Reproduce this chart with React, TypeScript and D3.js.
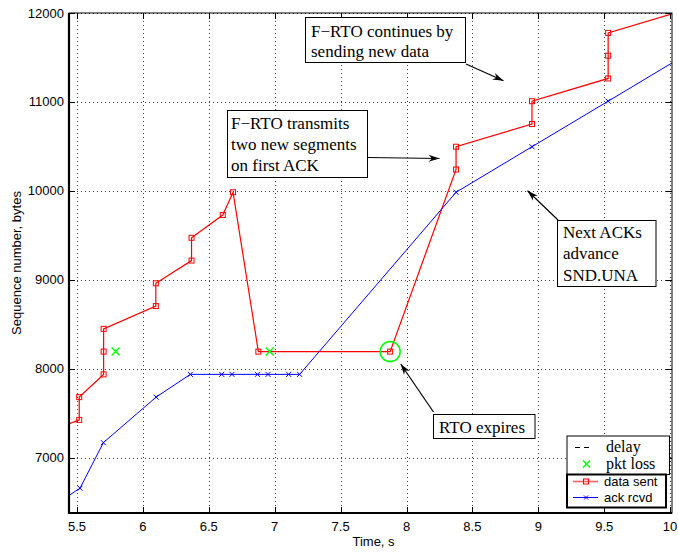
import { useEffect, useRef } from "react";
import * as d3 from "d3";

// data sent (red, square markers)
const sentTime = [5.08, 5.517, 5.517, 5.702, 5.702, 5.702, 6.098, 6.098, 6.369, 6.369, 6.606, 6.684, 6.876, 7.876, 8.376, 8.376, 8.952, 8.952, 9.53, 9.53, 9.53, 10.106];
const sentSeq = [7168, 7424, 7680, 7936, 8192, 8448, 8704, 8960, 9216, 9472, 9728, 9984, 8192, 8192, 10240, 10496, 10752, 11008, 11264, 11520, 11776, 12032];

// ack rcvd (blue, x markers)
const ackTime = [5.26, 5.523, 5.7, 6.1, 6.36, 6.598, 6.676, 6.869, 6.949, 7.106, 7.189, 8.376, 8.952, 9.53, 10.106];
const ackSeq = [6400, 6656, 7168, 7680, 7936, 7936, 7936, 7936, 7936, 7936, 7936, 9984, 10496, 11008, 11520];

// packet losses (green x)
const lossTime = [5.793, 6.962];
const lossSeq = [8192, 8192];

const xTicks = [5.5, 6, 6.5, 7, 7.5, 8, 8.5, 9, 9.5, 10];
const yTicks = [7000, 8000, 9000, 10000, 11000, 12000];

const serif = "'Liberation Serif', 'Times New Roman', serif";
const sans = "'Liberation Sans', Arial, Helvetica, sans-serif";

export default function App() {
  const svgRef = useRef<SVGSVGElement>(null);

  useEffect(() => {
    const svg = d3.select(svgRef.current);
    svg.selectAll("*").remove();

    const width = 678;
    const height = 553;
    const left = 69, right = 672, top = 13, bottom = 513;

    const x = d3.scaleLinear().domain([5.5, 10]).range([77, 670.1]);
    const y = d3.scaleLinear().domain([7000, 12000]).range([457.6, 13]);

    svg.attr("width", width).attr("height", height);
    svg.append("rect").attr("width", width).attr("height", height).attr("fill", "#fff");

    svg.append("defs").append("clipPath").attr("id", "plotclip")
      .append("rect").attr("x", left).attr("y", top)
      .attr("width", right - left).attr("height", bottom - top);

    // dotted grid
    const grid = svg.append("g").attr("stroke", "#000").attr("stroke-width", 1)
      .attr("stroke-dasharray", "1,3").attr("opacity", 0.75);
    xTicks.forEach((t) => {
      grid.append("line").attr("x1", Math.round(x(t)) + 0.5).attr("x2", Math.round(x(t)) + 0.5)
        .attr("y1", top).attr("y2", bottom);
    });
    yTicks.forEach((t) => {
      grid.append("line").attr("y1", Math.round(y(t)) + 0.5).attr("y2", Math.round(y(t)) + 0.5)
        .attr("x1", left).attr("x2", right);
    });

    const plot = svg.append("g").attr("clip-path", "url(#plotclip)");

    // data sent
    const sentPts: [number, number][] = sentTime.map((t, i) => [x(t), y(sentSeq[i])]);
    plot.append("path").attr("d", d3.line()(sentPts)!)
      .attr("fill", "none").attr("stroke", "#ff0000").attr("stroke-width", 1.2);
    plot.selectAll(".sq").data(sentPts).join("rect")
      .attr("x", (d) => d[0] - 2.5).attr("y", (d) => d[1] - 2.5)
      .attr("width", 5).attr("height", 5)
      .attr("fill", "none").attr("stroke", "#ff0000").attr("stroke-width", 1);

    // ack rcvd
    const ackPts: [number, number][] = ackTime.map((t, i) => [x(t), y(ackSeq[i])]);
    plot.append("path").attr("d", d3.line()(ackPts)!)
      .attr("fill", "none").attr("stroke", "#0000ff").attr("stroke-width", 1);
    ackPts.forEach(([px, py]) => {
      plot.append("path")
        .attr("d", `M${px - 2.5},${py - 2.5}L${px + 2.5},${py + 2.5}M${px - 2.5},${py + 2.5}L${px + 2.5},${py - 2.5}`)
        .attr("stroke", "#0000ff").attr("stroke-width", 1);
    });

    // packet loss
    lossTime.forEach((t, i) => {
      const px = x(t), py = y(lossSeq[i]);
      plot.append("path")
        .attr("d", `M${px - 4},${py - 4}L${px + 4},${py + 4}M${px - 4},${py + 4}L${px + 4},${py - 4}`)
        .attr("stroke", "#00ff00").attr("stroke-width", 1.4);
    });

    // RTO circle
    plot.append("circle").attr("cx", x(7.876)).attr("cy", y(8192)).attr("r", 10)
      .attr("fill", "none").attr("stroke", "#00ff00").attr("stroke-width", 1.5);

    // axes box
    svg.append("rect").attr("x", left).attr("y", top).attr("width", right - left).attr("height", bottom - top)
      .attr("fill", "none").attr("stroke", "#000").attr("stroke-width", 1);
    svg.append("line").attr("x1", left).attr("x2", left).attr("y1", top).attr("y2", bottom + 1)
      .attr("stroke", "#000").attr("stroke-width", 2.2);
    svg.append("line").attr("x1", left).attr("x2", right).attr("y1", bottom).attr("y2", bottom)
      .attr("stroke", "#000").attr("stroke-width", 2.2);

    const ticks = svg.append("g").attr("stroke", "#000").attr("stroke-width", 1);
    xTicks.forEach((t) => {
      const px = Math.round(x(t)) + 0.5;
      ticks.append("line").attr("x1", px).attr("x2", px).attr("y1", bottom).attr("y2", bottom - 6);
      ticks.append("line").attr("x1", px).attr("x2", px).attr("y1", top).attr("y2", top + 6);
    });
    yTicks.forEach((t) => {
      const py = Math.round(y(t)) + 0.5;
      ticks.append("line").attr("x1", left).attr("x2", left + 6).attr("y1", py).attr("y2", py);
      ticks.append("line").attr("x1", right).attr("x2", right - 6).attr("y1", py).attr("y2", py);
    });

    svg.append("g").selectAll("text").data(xTicks).join("text")
      .attr("x", (d) => x(d)).attr("y", 531)
      .attr("text-anchor", "middle").style("font-family", sans).attr("font-size", 13)
      .text((d) => String(d));
    svg.append("g").selectAll("text").data(yTicks).join("text")
      .attr("x", 64).attr("y", (d) => y(d) + 4.5)
      .attr("text-anchor", "end").style("font-family", sans).attr("font-size", 13)
      .text((d) => String(d));

    svg.append("text").attr("x", x(7.75)).attr("y", 546).attr("text-anchor", "middle")
      .style("font-family", sans).attr("font-size", 13).text("Time, s");
    svg.append("text").attr("transform", `translate(21,${(top + bottom) / 2}) rotate(-90)`)
      .attr("text-anchor", "middle").style("font-family", sans).attr("font-size", 13)
      .text("Sequence number, bytes");

    // annotations
    const arrow = (x1: number, y1: number, x2: number, y2: number) => {
      svg.append("line").attr("x1", x1).attr("y1", y1).attr("x2", x2).attr("y2", y2)
        .attr("stroke", "#000").attr("stroke-width", 1.2);
      const a = Math.atan2(y2 - y1, x2 - x1);
      const g = svg.append("g").attr("transform", `translate(${x2},${y2}) rotate(${(a * 180) / Math.PI})`);
      g.append("path").attr("d", "M0,0L-11,-3.5L-7.5,0L-11,3.5Z").attr("fill", "#000");
    };
    const note = (bx: number, by: number, bw: number, bh: number, lines: string[], baseline: number[], tx: number) => {
      svg.append("rect").attr("x", bx).attr("y", by).attr("width", bw).attr("height", bh)
        .attr("fill", "#fff").attr("stroke", "#000").attr("stroke-width", 1);
      lines.forEach((l, i) => {
        svg.append("text").attr("x", tx).attr("y", baseline[i])
          .style("font-family", serif).attr("font-size", 17).text(l);
      });
    };

    note(305.5, 17.5, 160, 45, ["F\u2212RTO continues by", "sending new data"], [36.5, 56.5], 311);
    arrow(466, 64, 503.5, 80.7);
    note(227.5, 110.5, 140, 67, ["F\u2212RTO transmits", "two new segments", "on first ACK"], [129, 150, 171], 231);
    arrow(367.5, 157.5, 439.5, 158.5);
    note(557.5, 220.5, 98.5, 66, ["Next ACKs", "advance", "SND.UNA"], [238, 259, 280.5], 563);
    arrow(558, 220, 527.5, 190.7);
    note(433.5, 414.5, 101.5, 24, ["RTO expires"], [432.5], 439);
    arrow(433.5, 412, 400.7, 364);

    // legend
    const lg = svg.append("g");
    lg.append("rect").attr("x", 567).attr("y", 436).attr("width", 102.5).attr("height", 38.5)
      .attr("fill", "#fff").attr("stroke", "#000").attr("stroke-width", 1);
    lg.append("line").attr("x1", 575).attr("x2", 591).attr("y1", 447.5).attr("y2", 447.5)
      .attr("stroke", "#000").attr("stroke-width", 1).attr("stroke-dasharray", "5,4");
    lg.append("text").attr("x", 606).attr("y", 452).style("font-family", serif).attr("font-size", 16).text("delay");
    lg.append("path").attr("d", "M583,460.5L590,467.5M583,467.5L590,460.5")
      .attr("stroke", "#00ff00").attr("stroke-width", 1.4);
    lg.append("text").attr("x", 606).attr("y", 469).style("font-family", serif).attr("font-size", 16).text("pkt loss");

    lg.append("rect").attr("x", 567).attr("y", 474.5).attr("width", 99).attr("height", 33)
      .attr("fill", "#fff").attr("stroke", "#000").attr("stroke-width", 2);
    lg.append("line").attr("x1", 573).attr("x2", 598).attr("y1", 481.5).attr("y2", 481.5)
      .attr("stroke", "#ff0000").attr("stroke-width", 1.6).attr("opacity", 0.6);
    lg.append("rect").attr("x", 583.5).attr("y", 479).attr("width", 5).attr("height", 5)
      .attr("fill", "none").attr("stroke", "#ff0000");
    lg.append("text").attr("x", 604).attr("y", 486).style("font-family", sans).attr("font-size", 13).text("data sent");
    lg.append("line").attr("x1", 573).attr("x2", 598).attr("y1", 497.5).attr("y2", 497.5)
      .attr("stroke", "#0000ff").attr("stroke-width", 1);
    lg.append("path").attr("d", "M584,495.5L588,499.5M584,499.5L588,495.5")
      .attr("stroke", "#0000ff").attr("stroke-width", 1);
    lg.append("text").attr("x", 604).attr("y", 502).style("font-family", sans).attr("font-size", 13).text("ack rcvd");
  }, []);

  return <svg ref={svgRef} style={{ position: "absolute", left: 0, top: 0 }} />;
}
